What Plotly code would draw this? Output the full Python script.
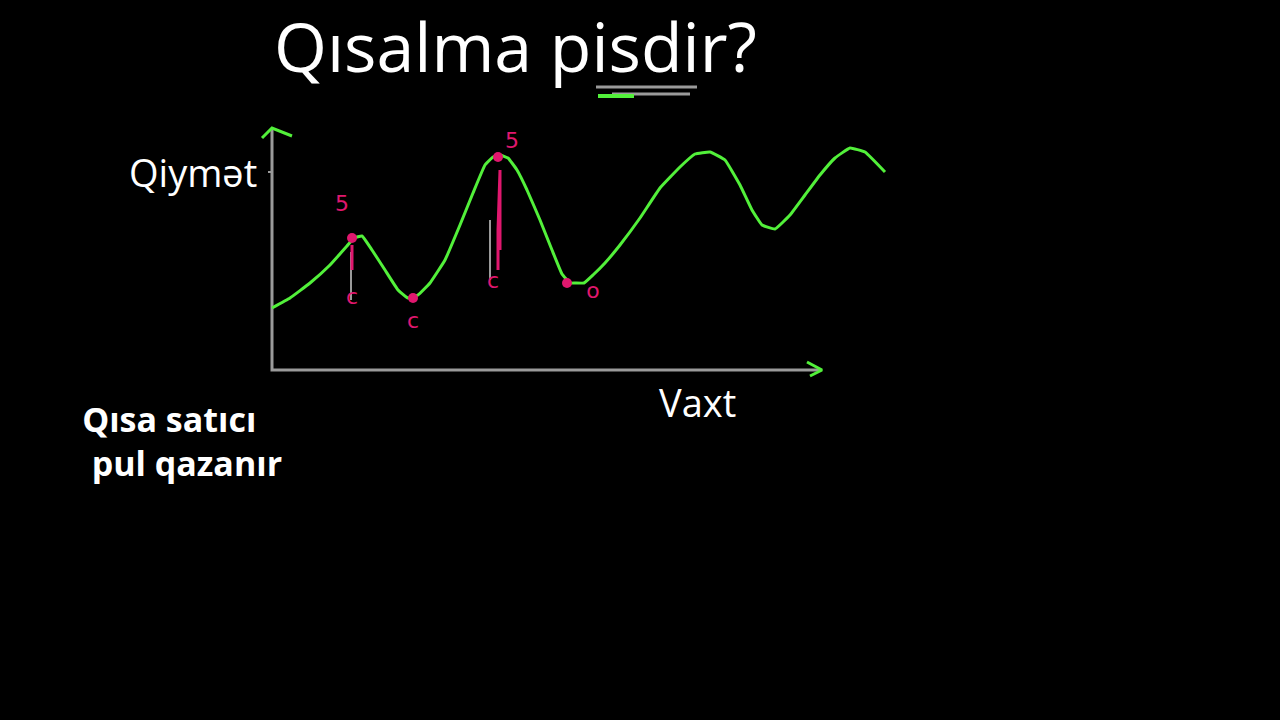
import plotly.graph_objects as go

# Price curve (time, price) in chart units: origin at the axes corner
time = [0, 18, 38, 58, 75, 82, 90, 100, 113, 126, 136, 146, 158, 173, 188, 201, 213, 221, 228, 236,
        245, 255, 268, 280, 290, 298, 303, 312, 321, 333, 348, 368, 388, 408, 423, 438, 453, 468,
        480, 490, 503, 518, 533, 548, 563, 578, 593, 613]
price = [62, 72, 87, 105, 124, 132, 134, 120, 100, 80, 72, 75, 87, 110, 145, 177, 205, 213, 215, 212,
         200, 180, 150, 120, 96, 87, 87, 87, 95, 107, 125, 152, 182, 203, 216, 218, 210, 185,
         160, 145, 141, 155, 175, 195, 212, 222, 218, 198]

# Pink hand marks
dot_time = [80, 141, 226, 295]
dot_price = [132, 72, 213, 87]
label_text = ["5", "c", "c", "c", "5", "o"]
label_time = [70, 80, 141, 221, 240, 321]
label_price = [165, 72, 48, 88, 228, 78]

GREEN = "#52f03a"
PINK = "#e0176e"
GRAY = "#9a9a9a"

fig = go.Figure()

# axes (drawn as lines)
fig.add_trace(go.Scatter(x=[0, 0, 548], y=[240, 0, 0], mode="lines",
                         line=dict(color=GRAY, width=3), hoverinfo="skip"))
# arrowheads
fig.add_trace(go.Scatter(x=[-10, 0, 20], y=[232, 242, 234], mode="lines",
                         line=dict(color=GREEN, width=3), hoverinfo="skip"))
fig.add_trace(go.Scatter(x=[535, 550, 538], y=[8, 0, -6], mode="lines",
                         line=dict(color=GREEN, width=3), hoverinfo="skip"))
fig.add_trace(go.Scatter(x=[-4, 0], y=[198, 198], mode="lines",
                         line=dict(color=GRAY, width=2), hoverinfo="skip"))

# pink vertical marks
fig.add_trace(go.Scatter(x=[79, 79], y=[70, 118], mode="lines",
                         line=dict(color=GRAY, width=2), hoverinfo="skip"))
fig.add_trace(go.Scatter(x=[80, 80], y=[100, 125], mode="lines",
                         line=dict(color=PINK, width=3), hoverinfo="skip"))
fig.add_trace(go.Scatter(x=[218, 218], y=[90, 150], mode="lines",
                         line=dict(color=GRAY, width=2), hoverinfo="skip"))
fig.add_trace(go.Scatter(x=[228, 228, 226, 226], y=[120, 200, 140, 100], mode="lines",
                         line=dict(color=PINK, width=3), hoverinfo="skip"))

# price curve
fig.add_trace(go.Scatter(x=time, y=price, mode="lines",
                         line=dict(color=GREEN, width=3, shape="spline", smoothing=0.3),
                         hoverinfo="skip"))

# pink dots and labels
fig.add_trace(go.Scatter(x=dot_time, y=dot_price, mode="markers",
                         marker=dict(color=PINK, size=10), hoverinfo="skip"))
fig.add_trace(go.Scatter(x=label_time, y=label_price, mode="text", text=label_text,
                         textfont=dict(color=PINK, size=22, family="DejaVu Sans"),
                         hoverinfo="skip"))

# title underline scribble
fig.add_trace(go.Scatter(x=[324, 425], y=[283, 283], mode="lines",
                         line=dict(color=GRAY, width=3), hoverinfo="skip"))
fig.add_trace(go.Scatter(x=[340, 418], y=[276, 276], mode="lines",
                         line=dict(color=GRAY, width=3), hoverinfo="skip"))
fig.add_trace(go.Scatter(x=[326, 362], y=[274, 274], mode="lines",
                         line=dict(color=GREEN, width=4), hoverinfo="skip"))

font = "Open Sans"
annotations = [
    dict(x=243, y=325, text="Qısalma pisdir?", font=dict(size=68, color="white", family=font)),
    dict(x=-79, y=198, text="Qiymət", font=dict(size=38, color="white", family=font)),
    dict(x=425, y=-32, text="Vaxt", font=dict(size=38, color="white", family=font)),
    dict(x=-94, y=-71, text="Qısa satıcı&nbsp;&nbsp;<br>&nbsp;&nbsp;pul qazanır",
         align="center", font=dict(size=34, color="white", family=font, weight="bold")),
]
for a in annotations:
    a.update(xref="x", yref="y", showarrow=False, xanchor="center", yanchor="middle")

fig.update_layout(
    width=1280, height=720,
    paper_bgcolor="black", plot_bgcolor="black",
    margin=dict(l=0, r=0, t=0, b=0),
    showlegend=False,
    xaxis=dict(range=[-272, 1008], visible=False, fixedrange=True),
    yaxis=dict(range=[-350, 370], visible=False, fixedrange=True),
    annotations=annotations,
)

fig.write_html(
    "out.html",
    config={"displayModeBar": False},
    post_script="document.body.style.margin='0';document.body.style.background='black';"
                "document.documentElement.style.overflow='hidden';",
)
